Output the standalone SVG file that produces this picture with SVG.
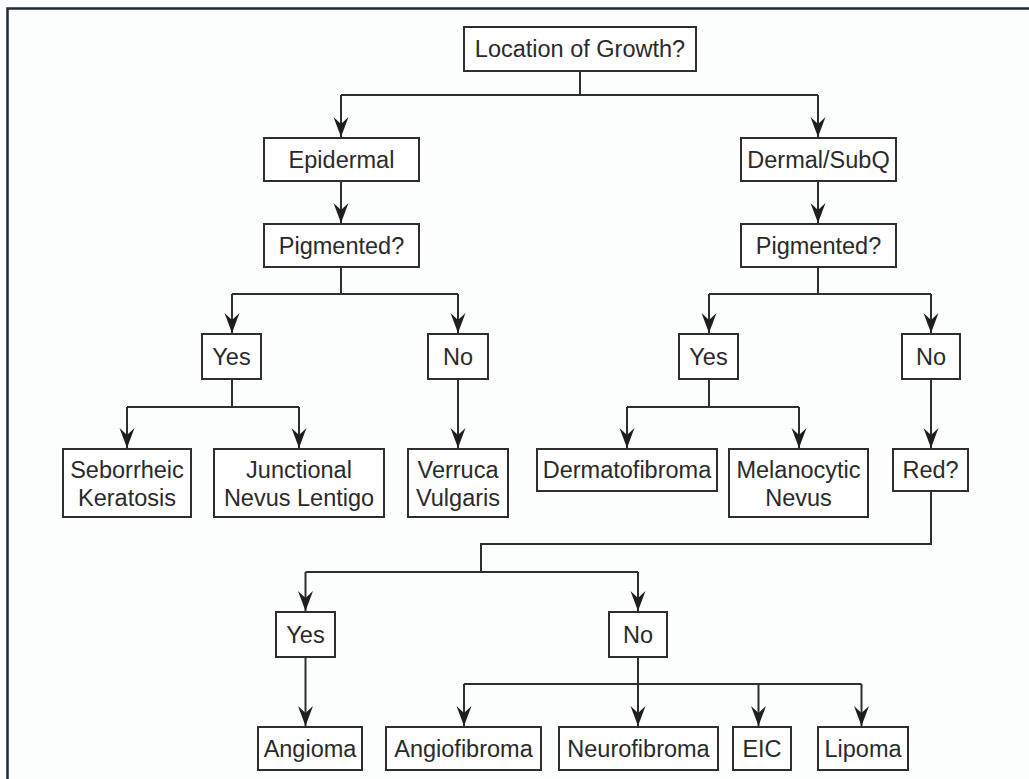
<svg xmlns="http://www.w3.org/2000/svg" width="1029" height="779" viewBox="0 0 1029 779">
<defs>
<style>
.box{fill:#ffffff;stroke:#2e2e2e;stroke-width:2}
.t{font-family:"Liberation Sans",Arial,sans-serif;font-size:23.5px;fill:#2a2a2a;text-anchor:middle}
.c{fill:none;stroke:#2e2e2e;stroke-width:2}
</style>
<marker id="ah" markerUnits="userSpaceOnUse" markerWidth="24" markerHeight="20" viewBox="-22 -10 24 20" refX="0" refY="0" orient="auto">
<path d="M0,0 L-20,-7.5 L-13,0 L-20,7.5 Z" fill="#1e1e1e"/>
</marker>
</defs>
<rect x="0" y="0" width="1029" height="779" fill="#fcfefd"/>
<path d="M7.5,779 V8.5 H1029" fill="none" stroke="#1d2a38" stroke-width="2.5"/>
<g id="connectors">
<path class="c" d="M580,71 V95 M341,95 H818"/>
<path class="c" d="M341,95 V137" marker-end="url(#ah)"/>
<path class="c" d="M818,95 V137" marker-end="url(#ah)"/>
<path class="c" d="M341,181 V223" marker-end="url(#ah)"/>
<path class="c" d="M818,181 V223" marker-end="url(#ah)"/>
<path class="c" d="M341,267 V294 M232,294 H458"/>
<path class="c" d="M232,294 V333" marker-end="url(#ah)"/>
<path class="c" d="M458,294 V333" marker-end="url(#ah)"/>
<path class="c" d="M818,267 V294 M709,294 H931"/>
<path class="c" d="M709,294 V333" marker-end="url(#ah)"/>
<path class="c" d="M931,294 V333" marker-end="url(#ah)"/>
<path class="c" d="M232,379 V407 M127,407 H299"/>
<path class="c" d="M127,407 V448" marker-end="url(#ah)"/>
<path class="c" d="M299,407 V448" marker-end="url(#ah)"/>
<path class="c" d="M458,379 V448" marker-end="url(#ah)"/>
<path class="c" d="M709,379 V407 M627,407 H799"/>
<path class="c" d="M627,407 V448" marker-end="url(#ah)"/>
<path class="c" d="M799,407 V448" marker-end="url(#ah)"/>
<path class="c" d="M931,379 V448" marker-end="url(#ah)"/>
<path class="c" d="M931,491 V544 H481 V572 M305.5,572 H638"/>
<path class="c" d="M305.5,572 V611" marker-end="url(#ah)"/>
<path class="c" d="M638,572 V611" marker-end="url(#ah)"/>
<path class="c" d="M305.5,657 V726" marker-end="url(#ah)"/>
<path class="c" d="M638,657 V726" marker-end="url(#ah)"/>
<path class="c" d="M464,684 H861.5"/>
<path class="c" d="M464,684 V726" marker-end="url(#ah)"/>
<path class="c" d="M758.5,684 V726" marker-end="url(#ah)"/>
<path class="c" d="M861.5,684 V726" marker-end="url(#ah)"/>
</g>
<g id="n-root"><rect class="box" x="464" y="27" width="232" height="44"/><text class="t" x="580" y="57">Location of Growth?</text></g>
<g id="n-epidermal"><rect class="box" x="264" y="138" width="155" height="43"/><text class="t" x="341.5" y="168">Epidermal</text></g>
<g id="n-dermal"><rect class="box" x="741" y="138" width="155" height="43"/><text class="t" x="818.5" y="168">Dermal/SubQ</text></g>
<g id="n-pig-l"><rect class="box" x="264" y="224" width="155" height="43"/><text class="t" x="341.5" y="254">Pigmented?</text></g>
<g id="n-pig-r"><rect class="box" x="741" y="224" width="155" height="43"/><text class="t" x="818.5" y="254">Pigmented?</text></g>
<g id="n-yes-l"><rect class="box" x="202" y="334" width="59" height="45"/><text class="t" x="231.5" y="365">Yes</text></g>
<g id="n-no-l"><rect class="box" x="428" y="334" width="60" height="45"/><text class="t" x="458" y="365">No</text></g>
<g id="n-yes-r"><rect class="box" x="679" y="334" width="59" height="45"/><text class="t" x="708.5" y="365">Yes</text></g>
<g id="n-no-r"><rect class="box" x="902" y="334" width="58" height="45"/><text class="t" x="931" y="365">No</text></g>
<g id="n-seb"><rect class="box" x="63" y="449" width="128" height="68"/><text class="t" x="127" y="478">Seborrheic</text><text class="t" x="127" y="506">Keratosis</text></g>
<g id="n-junc"><rect class="box" x="214" y="449" width="170" height="68"/><text class="t" x="299" y="478">Junctional</text><text class="t" x="299" y="506">Nevus Lentigo</text></g>
<g id="n-verruca"><rect class="box" x="408" y="449" width="100" height="68"/><text class="t" x="458" y="478">Verruca</text><text class="t" x="458" y="506">Vulgaris</text></g>
<g id="n-dermato"><rect class="box" x="537" y="449" width="180" height="42"/><text class="t" x="627" y="478">Dermatofibroma</text></g>
<g id="n-melano"><rect class="box" x="729" y="449" width="139" height="68"/><text class="t" x="798.5" y="478">Melanocytic</text><text class="t" x="798.5" y="506">Nevus</text></g>
<g id="n-red"><rect class="box" x="893" y="449" width="75" height="42"/><text class="t" x="930.5" y="478">Red?</text></g>
<g id="n-yes-b"><rect class="box" x="276" y="612" width="59" height="45"/><text class="t" x="305.5" y="643">Yes</text></g>
<g id="n-no-b"><rect class="box" x="609" y="612" width="58" height="45"/><text class="t" x="638" y="643">No</text></g>
<g id="n-angioma"><rect class="box" x="258" y="727" width="104" height="43"/><text class="t" x="310" y="757">Angioma</text></g>
<g id="n-angiofibroma"><rect class="box" x="386" y="727" width="155" height="43"/><text class="t" x="463.5" y="757">Angiofibroma</text></g>
<g id="n-neuro"><rect class="box" x="559" y="727" width="159" height="43"/><text class="t" x="638.5" y="757">Neurofibroma</text></g>
<g id="n-eic"><rect class="box" x="733" y="727" width="58" height="43"/><text class="t" x="762" y="757">EIC</text></g>
<g id="n-lipoma"><rect class="box" x="818" y="727" width="90" height="43"/><text class="t" x="863" y="757">Lipoma</text></g>
</svg>
